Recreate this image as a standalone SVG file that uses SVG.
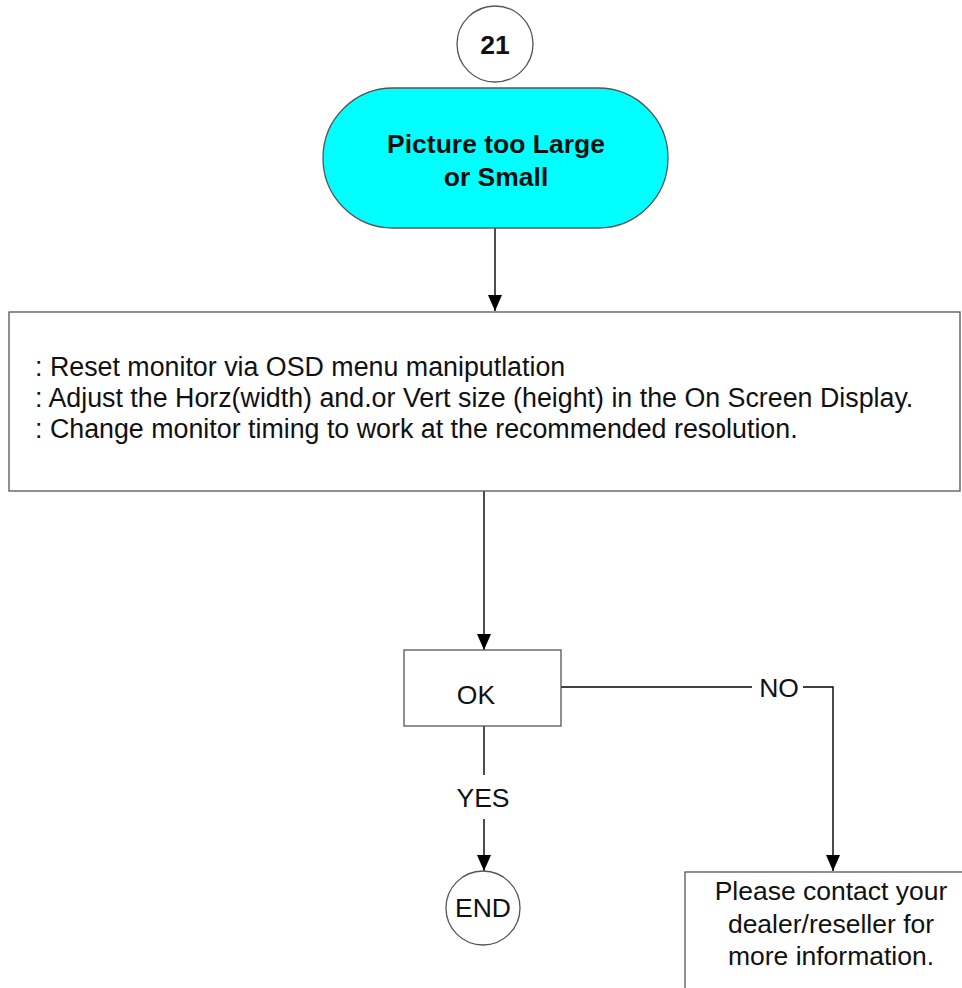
<svg xmlns="http://www.w3.org/2000/svg" width="962" height="988" viewBox="0 0 962 988">
  <style>
    .shape { fill: #ffffff; stroke: #555555; stroke-width: 1.3; }
    .term { fill: #00ffff; stroke: #555555; stroke-width: 1.3; }
    .wire { fill: none; stroke: #000000; stroke-width: 1.4; }
    .lbl { font-family: "Liberation Sans", Arial, Helvetica, sans-serif; font-size: 26.5px; fill: #111111; }
    .body { font-size: 26.8px; }
    .bold { font-weight: bold; }
    .mid { text-anchor: middle; }
  </style>
  <defs>
    <marker id="head" viewBox="0 0 16 14" refX="16" refY="7" markerWidth="16" markerHeight="14" markerUnits="userSpaceOnUse" orient="auto">
      <path d="M0,0 L16,7 L0,14 Z" fill="#000000"/>
    </marker>
  </defs>

  <!-- connectors -->
  <g id="connectors">
    <line class="wire" x1="495" y1="228" x2="495" y2="311" marker-end="url(#head)"/>
    <line class="wire" x1="484" y1="491" x2="484" y2="650" marker-end="url(#head)"/>
    <polyline class="wire" points="561,687 752,687"/>
    <polyline class="wire" points="803,687 833,687 833,871" marker-end="url(#head)"/>
    <text class="lbl mid" x="779" y="697">NO</text>
    <line class="wire" x1="484" y1="726" x2="484" y2="775"/>
    <text class="lbl mid" x="483" y="807">YES</text>
    <line class="wire" x1="484" y1="819" x2="484" y2="871" marker-end="url(#head)"/>
  </g>

  <g id="node-21">
    <circle class="shape" cx="495" cy="44" r="38"/>
    <text class="lbl bold mid" x="495" y="54">21</text>
  </g>

  <g id="node-start">
    <rect class="term" x="323" y="88" width="345" height="140" rx="70" ry="70"/>
    <text class="lbl bold mid" x="496" y="153">Picture too Large</text>
    <text class="lbl bold mid" x="496" y="186">or Small</text>
  </g>

  <g id="node-steps">
    <rect class="shape" x="9" y="312" width="951" height="179"/>
    <text class="lbl body" x="35" y="376">: Reset monitor via OSD menu maniputlation</text>
    <text class="lbl body" x="35" y="407">: Adjust the Horz(width) and.or Vert size (height) in the On Screen Display.</text>
    <text class="lbl body" x="35" y="438">: Change monitor timing to work at the recommended resolution.</text>
  </g>

  <g id="node-ok">
    <rect class="shape" x="404" y="650" width="157" height="76"/>
    <text class="lbl mid" x="476" y="704">OK</text>
  </g>

  <g id="node-end">
    <circle class="shape" cx="483" cy="908" r="37"/>
    <text class="lbl mid" x="483" y="917">END</text>
  </g>

  <g id="node-contact">
    <rect class="shape" x="685" y="872" width="300" height="140"/>
    <text class="lbl mid" x="831" y="900">Please contact your</text>
    <text class="lbl mid" x="831" y="933">dealer/reseller for</text>
    <text class="lbl mid" x="831" y="965">more information.</text>
  </g>
</svg>
